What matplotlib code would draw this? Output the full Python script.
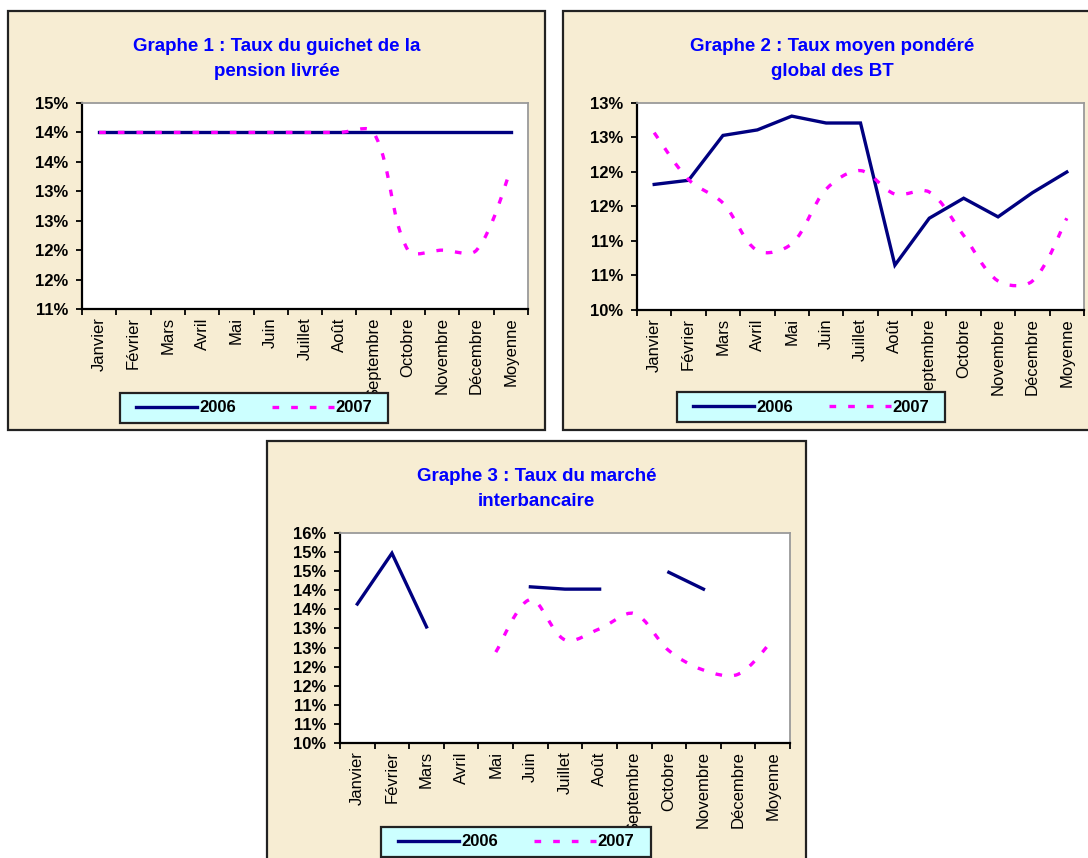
import numpy as np
import matplotlib
matplotlib.use('Agg')
import matplotlib.pyplot as plt
from matplotlib.path import Path
from matplotlib.patches import PathPatch, Rectangle
from matplotlib.lines import Line2D

plt.rcParams['font.family'] = ['Liberation Sans', 'DejaVu Sans']

NAN = np.nan

MOIS = ['Janvier', 'Février', 'Mars', 'Avril', 'Mai', 'Juin', 'Juillet',
        'Août', 'Septembre', 'Octobre', 'Novembre', 'Décembre', 'Moyenne']

# Graphe 1 : guichet de la pension livrée (%)
G1_2006 = [14.0, 14.0, 14.0, 14.0, 14.0, 14.0, 14.0, 14.0, 14.0, 14.0, 14.0, 14.0, 14.0]
G1_2007 = [14.0, 14.0, 14.0, 14.0, 14.0, 14.0, 14.0, 14.0, 14.0, 12.0, 12.0, 12.0, 13.37]
G1_YTICKS = [11.0, 11.5, 12.0, 12.5, 13.0, 13.5, 14.0, 14.5]
G1_YLABELS = ['11%', '12%', '12%', '13%', '13%', '14%', '14%', '15%']

# Graphe 2 : taux moyen pondéré global des BT (%)
G2_2006 = [11.82, 11.88, 12.53, 12.61, 12.81, 12.71, 12.71, 10.65, 11.33, 11.62, 11.35, 11.70, 12.00]
G2_2007 = [12.57, 11.89, 11.55, 10.86, 10.96, 11.75, 12.02, 11.68, 11.71, 11.08, 10.42, 10.42, 11.33]
G2_YTICKS = [10.0, 10.5, 11.0, 11.5, 12.0, 12.5, 13.0]
G2_YLABELS = ['10%', '11%', '11%', '12%', '12%', '13%', '13%']

# Graphe 3 : taux du marché interbancaire (%)
G3_2006 = [13.64, 14.97, 13.04, NAN, NAN, 14.09, 14.03, 14.03, NAN, 14.47, 14.03, NAN, NAN]
G3_2007 = [NAN, NAN, NAN, NAN, 12.38, 13.76, 12.70, 12.99, 13.39, 12.42, 11.91, 11.80, 12.70]
G3_YTICKS = [10.0, 10.5, 11.0, 11.5, 12.0, 12.5, 13.0, 13.5, 14.0, 14.5, 15.0, 15.5]
G3_YLABELS = ['10%', '11%', '11%', '12%', '12%', '13%', '13%', '14%', '14%', '15%', '15%', '16%']

TITRES = ['Graphe 1 : Taux du guichet de la\npension livrée',
          'Graphe 2 : Taux moyen pondéré\nglobal des BT',
          'Graphe 3 : Taux du marché\ninterbancaire']

BLEU_NUIT = '#000080'
MAGENTA = '#FF00FF'
FOND = '#F7EDD3'
TIRETS = (0, (2.0, 3.6))
EP = 2.4

W, H = 1088, 858
fig = plt.figure(figsize=(W / 100, H / 100), dpi=100, facecolor='white')


def px_rect(x0, y0, x1, y1):
    """pixels (origine en haut à gauche) -> fraction de figure"""
    return [x0 / W, 1 - y1 / H, (x1 - x0) / W, (y1 - y0) / H]


def courbe_lissee(ax, y, **kw):
    """série en courbe lissée (Bézier, tangentes pondérées par la longueur
    des segments à l'écran), coupée aux valeurs manquantes"""
    y = np.asarray(y, float)
    x = np.arange(len(y), dtype=float)
    idx = np.flatnonzero(~np.isnan(y))
    versdata = ax.transData.inverted()
    for run in np.split(idx, np.flatnonzero(np.diff(idx) > 1) + 1):
        pts = ax.transData.transform(np.column_stack([x[run], y[run]]))
        n = len(pts)
        d = np.hypot(*np.diff(pts, axis=0).T)
        verts, codes = [pts[0]], [Path.MOVETO]
        for i in range(n - 1):
            p0, p1 = pts[max(i - 1, 0)], pts[i]
            p2, p3 = pts[i + 1], pts[min(i + 2, n - 1)]
            dp = d[i - 1] if i > 0 else d[i]
            dn = d[i + 1] if i + 1 < n - 1 else d[i]
            c1 = p1 + (p2 - p0) * d[i] / (dp + d[i]) / 3
            c2 = p2 - (p3 - p1) * d[i] / (d[i] + dn) / 3
            verts += [c1, c2, p2]
            codes += [Path.CURVE4] * 3
        ax.add_patch(PathPatch(Path(versdata.transform(np.array(verts)), codes),
                               fill=False, **kw))


def graphe(panneau, zone, titre, serie06, serie07, yticks, ylabels, legende):
    # fond du cadre
    x0, y0, x1, y1 = panneau
    fig.patches.append(Rectangle((x0 / W, 1 - y1 / H), (x1 - x0) / W, (y1 - y0) / H,
                                 transform=fig.transFigure, facecolor=FOND,
                                 edgecolor='#222222', linewidth=1.6, zorder=-5))
    fig.text((x0 + x1) / 2 / W, 1 - (y0 + 48) / H, titre, ha='center', va='center',
             color='#0000FF', fontsize=13.5, fontweight='bold', linespacing=1.55)

    ax = fig.add_axes(px_rect(*zone))
    ax.set_facecolor('white')
    ax.set_xlim(-0.5, len(MOIS) - 0.5)
    ax.set_ylim(yticks[0], yticks[-1])

    ax.plot(range(len(MOIS)), serie06, color=BLEU_NUIT, lw=EP, zorder=3,
            solid_joinstyle='miter')
    courbe_lissee(ax, serie07, edgecolor=MAGENTA, lw=EP, linestyle=TIRETS, zorder=4)

    ax.set_xticks(np.arange(-0.5, len(MOIS), 1.0))
    ax.set_xticks(range(len(MOIS)), minor=True)
    ax.set_xticklabels(MOIS, minor=True, rotation=90, fontsize=12)
    ax.tick_params(axis='x', which='major', direction='out', length=4, width=1.3,
                   labelbottom=False)
    ax.tick_params(axis='x', which='minor', length=0, pad=6)
    ax.set_yticks(yticks)
    ax.set_yticklabels(ylabels, fontsize=12, fontweight='bold')
    ax.tick_params(axis='y', direction='out', length=4, width=1.3, pad=6)
    for cote in ('top', 'right'):
        ax.spines[cote].set_color('#9A9A9A')
        ax.spines[cote].set_linewidth(1.3)
    for cote in ('left', 'bottom'):
        ax.spines[cote].set_color('black')
        ax.spines[cote].set_linewidth(1.6)

    # légende en bas du cadre
    lx0, ly0, lx1, ly1 = legende
    fig.patches.append(Rectangle((lx0 / W, 1 - ly1 / H), (lx1 - lx0) / W, (ly1 - ly0) / H,
                                 transform=fig.transFigure, facecolor='#CCFFFF',
                                 edgecolor='#222222', linewidth=1.6, zorder=4))
    poignees = [Line2D([], [], color=BLEU_NUIT, lw=EP),
                Line2D([], [], color=MAGENTA, lw=EP, linestyle=TIRETS)]
    leg = fig.legend(poignees, ['2006', '2007'], ncol=2, frameon=False, loc='center',
                     bbox_to_anchor=((lx0 + lx1) / 2 / W, 1 - (ly0 + ly1) / 2 / H),
                     prop={'size': 12, 'weight': 'bold'}, handlelength=3.7,
                     handletextpad=0.1, columnspacing=2.2, borderpad=0.2)
    leg.set_zorder(5)
    return ax


graphe((8, 11, 545, 430), (82, 103, 528, 309), TITRES[0], G1_2006, G1_2007,
       G1_YTICKS, G1_YLABELS, (120, 393, 388, 423))
graphe((563, 11, 1101, 430), (637, 103, 1084, 310), TITRES[1], G2_2006, G2_2007,
       G2_YTICKS, G2_YLABELS, (677, 392, 945, 422))
graphe((267, 441, 806, 880), (340, 533, 790, 743), TITRES[2], G3_2006, G3_2007,
       G3_YTICKS, G3_YLABELS, (381, 827, 651, 857))

fig.savefig('out.png', dpi=100, facecolor='white')
